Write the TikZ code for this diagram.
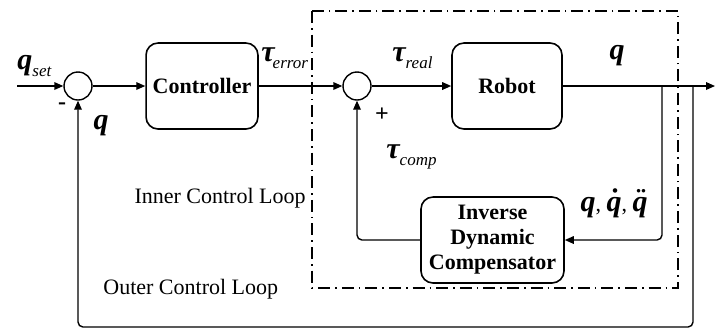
\documentclass[tikz,border=0pt]{standalone}
\usepackage{fontspec}
\setmainfont{Liberation Serif}
\usetikzlibrary{arrows.meta, positioning}
\newcommand{\vq}{{\fontsize{15}{17}\selectfont\bfseries\itshape q}}
\newcommand{\vtau}{{\fontsize{15}{17}\selectfont\bfseries\itshape τ}}
\newcommand{\sub}[1]{\raisebox{-3.5pt}{\fontsize{8.5}{10}\selectfont\itshape #1}}
\newcommand{\qacc}[1]{\ooalign{\vq\cr\hidewidth\kern1.2pt\raisebox{1.2pt}{\fontsize{15}{17}\selectfont\bfseries #1}\hidewidth\cr}}

\begin{document}
\begin{tikzpicture}[x=0.5pt, y=-0.5pt, font=\fontsize{11}{13}\selectfont,
    block/.style={rectangle, rounded corners=6pt, draw, line width=0.8pt,
                  minimum width=55pt, minimum height=43pt, align=center, font=\fontsize{11}{12.5}\selectfont\bfseries},
    sumnode/.style={circle, draw, line width=0.7pt, minimum size=14pt, inner sep=0pt},
    arr/.style={-{Triangle[length=4.5pt, width=3.8pt]}, line width=0.7pt},
    wire/.style={line width=0.7pt, rounded corners=2.5pt},
    loopbox/.style={line width=0.6pt, dash pattern=on 6pt off 2.5pt on 0.8pt off 2.5pt}
]
\useasboundingbox (0,0) rectangle (715,329);

\node[sumnode] (sum1) at (78,86) {};
\node[block] (ctrl) at (202,86) {Controller};
\node[sumnode] (sum2) at (357,86) {};
\node[block] (robot) at (507,86) {Robot};
\node[block, minimum width=71.5pt] (idc) at (492.5,240) {Inverse\\Dynamic\\Compensator};

\coordinate (in) at (17,86);
\coordinate (b1) at (662,86);
\coordinate (b2) at (693,86);
\coordinate (out) at (715,86);

\draw[loopbox] (312,11) rectangle (678,288);

\draw[arr] (in) -- (sum1);
\draw[arr] (sum1) -- (ctrl);
\draw[arr] (ctrl) -- (sum2);
\draw[arr] (sum2) -- (robot);
\draw[arr] (robot) -- (out);
\draw[arr, wire] (b1) |- (idc.east);
\draw[arr, wire] (idc.west) -| (sum2.south);
\draw[arr, wire] (b2) |- (78,327) -- (sum1.south);

\node[anchor=west, inner sep=0pt] at (17,66) {\vq\sub{set}};
\node[font=\bfseries\fontsize{12}{14}\selectfont] at (62,106) {-};
\node at (101,126) {\vq};
\node[anchor=west, inner sep=0pt] at (261,58) {\vtau\kern-1pt\sub{error}};
\node[anchor=west, inner sep=0pt] at (392,58) {\vtau\sub{real}};
\node[font=\bfseries\fontsize{12}{14}\selectfont] at (382,115) {+};
\node[anchor=west, inner sep=0pt] at (386,157) {\vtau\sub{comp}};
\node at (617,56) {\vq};
\node at (614,208) {\vq, \qacc{˙}, \qacc{¨}};
\node[anchor=east, inner sep=0pt] at (306,198) {Inner Control Loop};
\node[anchor=west, inner sep=0pt] at (103,289) {Outer Control Loop};
\end{tikzpicture}
\end{document}
